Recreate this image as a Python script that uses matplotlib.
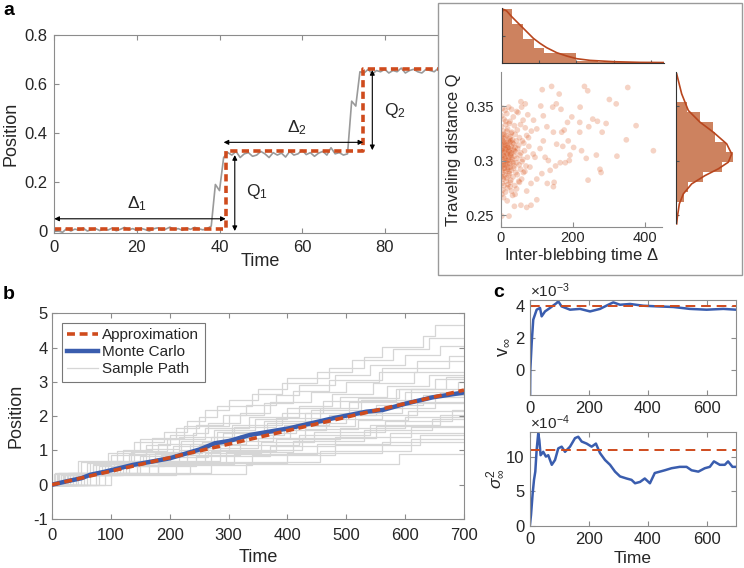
import matplotlib
matplotlib.use('Agg')
from matplotlib import pyplot as plt
from matplotlib.patches import Rectangle
import numpy as np

plt.rcParams['font.family'] = ['Liberation Sans', 'DejaVu Sans']
plt.rcParams['mathtext.fontset'] = 'custom'
plt.rcParams['mathtext.rm'] = 'Liberation Sans'
plt.rcParams['mathtext.it'] = 'Liberation Sans:italic'
plt.rcParams['mathtext.bf'] = 'Liberation Sans:bold'
plt.rcParams['axes.unicode_minus'] = False

W, H = 744, 568
AXC = '#8c8c8c'
TXT = '#262626'
RED = '#CF4B1D'
BLUE = '#3A5DAE'
BROWN = '#CD825F'
CURVE = '#B8461E'

#--------------------------------------------------------------------------------
# panel a : one trajectory
time_a = list(range(101))
pos_a = [0.005, 0.0, -0.005, 0.01, 0.0, 0.008, 0.003, 0.012, 0.0, 0.006,
         0.01, 0.002, 0.009, 0.004, 0.012, 0.001, 0.007, 0.015, 0.005, 0.01,
         0.002, 0.011, 0.006, 0.0, 0.009, 0.013, 0.004, 0.008, 0.016, 0.006,
         0.01, 0.003, 0.012, 0.007, 0.015, 0.009, 0.005, 0.01, 0.02,
         0.19, 0.165,
         0.30, 0.32, 0.31, 0.325, 0.30, 0.315, 0.32, 0.305, 0.31, 0.325,
         0.315, 0.30, 0.32, 0.31, 0.318, 0.302, 0.325, 0.31, 0.315, 0.33,
         0.312, 0.32, 0.305, 0.318, 0.325, 0.31, 0.34, 0.315, 0.32, 0.31, 0.315,
         0.53, 0.51, 0.65,
         0.645, 0.66, 0.64, 0.655, 0.65, 0.66, 0.645, 0.655, 0.65, 0.665,
         0.645, 0.655, 0.66, 0.65, 0.645, 0.66, 0.655, 0.65, 0.665, 0.645,
         0.655, 0.66, 0.65, 0.655, 0.645, 0.66]
approx_t_a = [0, 41.5, 74.8, 100]
approx_y_a = [0.008, 0.327, 0.66, 0.66]

# scatter of (inter-blebbing time, traveling distance)
delta_pts = [141, 115, 232, 241, 352, 162, 301, 320, 220, 375, 423, 348, 322, 281,
             292, 268, 255, 244, 265, 237, 275, 278, 242, 224, 202, 219, 219, 197,
             185, 176, 169, 146, 155, 187, 172, 192, 190, 179, 165, 152, 137, 132,
             148, 129, 146, 114, 100, 84, 72, 100, 84, 72, 56, 38, 40, 23, 3, 3,
             118, 111, 144, 167, 154, 56, 68, 91, 100, 128, 77, 118, 109, 95, 123,
             81, 63, 52, 26,
             5, 12, 22, 30, 44, 58,
             3, 9, 17, 26, 35, 48, 62, 75,
             2, 7, 14, 19, 24, 31, 38, 46, 55, 68, 85,
             1, 4, 8, 11, 16, 21, 27, 33, 40, 52, 60, 72,
             2, 5, 9, 13, 17, 20, 25, 29, 36, 43, 50, 64, 78,
             1, 3, 6, 10, 14, 18, 22, 26, 30, 35, 41, 47, 56, 66, 90,
             2, 4, 7, 11, 15, 19, 23, 28, 32, 38, 45, 53, 61, 74,
             1, 5, 8, 12, 16, 21, 25, 31, 37, 44, 51, 59, 70,
             3, 6, 10, 14, 19, 24, 29, 36, 42, 55, 67,
             2, 7, 11, 17, 22, 28, 34, 46, 58,
             4, 9, 15, 20, 27, 39, 50,
             6, 13, 19, 30, 44,
             8, 18, 33,
             6, 12, 18, 24, 9, 15, 21, 27, 33, 13, 7, 19, 25, 30, 4, 16, 10, 22,
             28, 35, 3, 11, 17, 23, 29, 40, 8, 14, 26, 38]
q_pts = [0.368, 0.365, 0.368, 0.364, 0.367, 0.361, 0.356, 0.352, 0.349, 0.332,
         0.309, 0.319, 0.304, 0.326, 0.334, 0.336, 0.338, 0.331, 0.305, 0.302,
         0.292, 0.289, 0.282, 0.309, 0.312, 0.335, 0.326, 0.340, 0.335, 0.328,
         0.326, 0.326, 0.315, 0.318, 0.313, 0.305, 0.300, 0.298, 0.298, 0.295,
         0.291, 0.300, 0.280, 0.279, 0.276, 0.288, 0.283, 0.279, 0.272, 0.264,
         0.259, 0.257, 0.259, 0.258, 0.269, 0.249, 0.249, 0.269,
         0.341, 0.350, 0.349, 0.347, 0.352, 0.354, 0.352, 0.337, 0.329, 0.331,
         0.321, 0.318, 0.311, 0.303, 0.303, 0.294, 0.289, 0.280, 0.276,
         0.348, 0.346, 0.349, 0.347, 0.345, 0.349,
         0.341, 0.338, 0.343, 0.336, 0.340, 0.344, 0.337, 0.342,
         0.331, 0.327, 0.333, 0.329, 0.334, 0.326, 0.332, 0.328, 0.333, 0.330, 0.327,
         0.322, 0.319, 0.324, 0.320, 0.323, 0.318, 0.322, 0.319, 0.324, 0.321, 0.318, 0.323,
         0.315, 0.313, 0.317, 0.314, 0.316, 0.312, 0.317, 0.313, 0.315, 0.318, 0.314, 0.316, 0.313,
         0.309, 0.307, 0.311, 0.308, 0.310, 0.306, 0.309, 0.311, 0.307, 0.310, 0.308, 0.311, 0.307, 0.309, 0.306,
         0.303, 0.301, 0.305, 0.302, 0.304, 0.300, 0.303, 0.305, 0.301, 0.304, 0.302, 0.305, 0.301, 0.303,
         0.297, 0.295, 0.299, 0.296, 0.298, 0.294, 0.297, 0.299, 0.295, 0.298, 0.296, 0.299, 0.295,
         0.291, 0.289, 0.293, 0.290, 0.292, 0.288, 0.291, 0.293, 0.289, 0.292, 0.290,
         0.285, 0.283, 0.287, 0.284, 0.286, 0.282, 0.285, 0.287, 0.283,
         0.279, 0.277, 0.281, 0.278, 0.280, 0.277, 0.281,
         0.273, 0.271, 0.275, 0.272, 0.274,
         0.266, 0.263, 0.268,
         0.318, 0.311, 0.314, 0.308, 0.304, 0.300, 0.312, 0.306, 0.316, 0.322,
         0.296, 0.297, 0.320, 0.303, 0.310, 0.307, 0.315, 0.301, 0.318, 0.298,
         0.324, 0.293, 0.327, 0.290, 0.325, 0.312, 0.285, 0.336, 0.294, 0.309]

# marginal histograms
delta_edges = [0, 28.6, 57.2, 85.8, 114.4, 143.0, 171.6, 200.2, 228.8, 257.4,
               286.0, 314.6, 343.2, 371.8, 400.4, 429.0]
delta_counts = [160, 115, 70, 43, 28, 28, 28, 6, 4, 3, 2, 2, 1, 1, 1]
delta_fit_x = [0, 4.4, 13.4, 26.8, 40.2, 55.4, 71.5, 84.9, 102.7, 120.6, 147.5,
               174.3, 201, 236.7, 301, 370.8, 435]
delta_fit_y = [148, 160, 155, 138, 123, 106, 88, 73, 58, 45, 30, 20, 12, 7, 3, 1, 0.5]

q_edges = [0.2618, 0.2709, 0.2801, 0.2893, 0.2985, 0.3076, 0.3168, 0.3260,
           0.3352, 0.3443, 0.3535]
q_counts = [24, 37, 82, 137, 172, 150, 117, 110, 72, 32]
q_fit_x = [0.2419, 0.2480, 0.2603, 0.2694, 0.2786, 0.2862, 0.2924, 0.2985,
           0.3061, 0.3153, 0.3260, 0.3352, 0.3459, 0.3612, 0.3795]
q_fit_y = [2, 4, 10, 22, 47, 87, 127, 157, 167, 152, 112, 72, 37, 17, 2]

#--------------------------------------------------------------------------------
# panel b : sample paths (jump times + jump size), mean and approximation
path_jumps = [
    [15, 60, 95, 140, 190, 230, 260, 300, 350, 400, 470, 530, 560, 630, 650],
    [30, 70, 100, 160, 200, 245, 290, 330, 380, 420, 480, 540, 600, 660],
    [10, 50, 110, 150, 210, 250, 280, 340, 390, 450, 510, 580, 640],
    [20, 90, 130, 180, 240, 265, 320, 370, 440, 500, 555, 620],
    [5, 45, 120, 170, 225, 300, 360, 410, 470, 560, 675],
    [35, 80, 150, 205, 270, 310, 380, 455, 520, 590, 650],
    [25, 75, 135, 220, 275, 345, 400, 490, 570, 640],
    [40, 105, 165, 235, 290, 365, 430, 505, 600, 690],
    [12, 65, 140, 195, 260, 335, 420, 475, 545, 615],
    [55, 115, 185, 250, 320, 395, 470, 550, 630],
    [8, 85, 175, 255, 280, 360, 440, 525, 610],
    [30, 95, 160, 215, 305, 390, 460, 585, 670],
    [18, 100, 190, 265, 350, 430, 520, 605],
    [60, 125, 200, 285, 375, 465, 560, 650],
    [3, 70, 155, 240, 330, 415, 500, 595],
    [45, 130, 215, 300, 405, 515, 620],
    [22, 110, 230, 320, 420, 540, 660],
    [75, 145, 260, 355, 445, 565, 680],
    [35, 150, 270, 380, 490, 600],
    [15, 120, 245, 370, 480, 610],
    [90, 180, 295, 410, 530, 645],
    [50, 180, 310, 450, 575],
    [28, 165, 285, 425, 550],
    [65, 210, 340, 480, 625],
    [40, 235, 400, 560],
    [80, 270, 455, 610],
    [100, 330, 590],
]
path_q = [0.31, 0.29, 0.33, 0.30, 0.34, 0.28, 0.32, 0.30, 0.33, 0.29, 0.31, 0.35,
          0.27, 0.32, 0.30, 0.34, 0.29, 0.31, 0.33, 0.28, 0.32, 0.30, 0.34, 0.29,
          0.31, 0.33, 0.30]
t_end = 700
mc_t = [0, 25, 50, 65, 90, 138, 200, 251, 277, 302, 336, 404, 478, 534, 562, 602, 647, 700]
mc_y = [0, 0.1, 0.19, 0.29, 0.38, 0.58, 0.77, 1.03, 1.21, 1.28, 1.45, 1.65, 1.94,
        2.13, 2.18, 2.37, 2.55, 2.69]
approx_t_b = [0, 700]
approx_y_b = [0, 2.76]

#--------------------------------------------------------------------------------
# panel c : running estimates
v_t = [0, 1, 5.7, 11, 22.6, 34, 39.6, 51, 68, 90.6, 96, 107, 136, 170, 204, 238,
       266, 283, 306, 340, 385, 430, 487, 543, 600, 657, 700]
v_val = [-2.0, 0, 1.69, 3.16, 3.79, 3.9, 3.37, 3.68, 3.9, 4.21, 4.32, 4.0, 3.79,
         3.84, 3.68, 3.84, 4.1, 4.25, 4.1, 4.15, 4.04, 4.0, 3.96, 3.84, 3.79, 3.84, 3.79]
v_approx = 4.0

s_t = [0, 3.4, 9, 13.6, 18, 22.6, 28, 31.7, 36, 45, 54, 62, 74, 85, 96, 107.6, 119,
       136, 153, 164, 175.6, 192.5, 209.5, 224, 238, 255, 272, 289, 306, 328, 345,
       357, 374, 390, 407.5, 424, 441, 458, 481, 509, 532, 549, 572, 594, 611, 625,
       645, 662, 673, 688, 700]
s_val = [0.2, 1.56, 4.7, 6.7, 7.9, 11.1, 13.5, 12.5, 10.3, 10.8, 10.1, 10.3, 8.9,
         9.6, 11.3, 11.55, 10.8, 11.55, 12.8, 13.0, 12.3, 12.0, 11.55, 12.0, 10.6,
         9.6, 8.9, 7.9, 7.2, 6.9, 6.7, 6.2, 6.4, 6.9, 6.2, 7.7, 7.9, 8.1, 8.4, 8.6,
         8.6, 8.1, 7.9, 8.4, 8.6, 9.4, 8.9, 8.9, 9.4, 8.6, 8.6]
s_approx = 11.0


#--------------------------------------------------------------------------------
def px_axes(fig, l, t, r, b, **kw):
    return fig.add_axes([l/W, 1 - b/H, (r - l)/W, (b - t)/H], **kw)


def matlab_style(ax, box=True, size=12, xpad=6, ypad=4):
    for s in ax.spines.values():
        s.set_color(AXC)
        s.set_linewidth(0.8)
    ax.tick_params(direction='in', length=3.5, width=0.8, color=AXC,
                   labelcolor=TXT, labelsize=size, top=box, right=box)
    ax.tick_params(axis='x', pad=xpad)
    ax.tick_params(axis='y', pad=ypad)


def label_at(ax, xlabel=None, ylabel=None, xy=None, yx=None, size=13):
    # place axis labels at given pixel positions (label top / label right edge)
    l, b, w, h = ax.get_position().bounds
    if xlabel is not None:
        ax.set_xlabel(xlabel, fontsize=size, color=TXT)
        ax.xaxis.set_label_coords(0.5, -((xy - (1 - b)*H) / (h*H)))
    if ylabel is not None:
        ax.set_ylabel(ylabel, fontsize=size, color=TXT)
        ax.yaxis.set_label_coords((yx - l*W) / (w*W), 0.5)


fig = plt.figure(figsize=(W/100, H/100), dpi=100)

# ---------------- a
ax_a = px_axes(fig, 54.3, 35, 467.3, 233)
ax_a.plot(time_a, pos_a, color='#9a9a9a', lw=1.2)
ax_a.step(approx_t_a, approx_y_a, where='post', color=RED, lw=2.6,
          linestyle=(0, (2, 1.2)))
ax_a.set_xlim(0, 100)
ax_a.set_ylim(-0.008, 0.8)
ax_a.set_xticks([0, 20, 40, 60, 80, 100])
ax_a.set_yticks([0, 0.2, 0.4, 0.6, 0.8])
ax_a.set_yticklabels(['0', '0.2', '0.4', '0.6', '0.8'])
matlab_style(ax_a, xpad=5, ypad=5)
label_at(ax_a, xlabel='Time', xy=253, ylabel='Position', yx=20)

arr = dict(arrowstyle='<|-|>', color='k', lw=0.8, mutation_scale=7, shrinkA=0, shrinkB=0)
ax_a.annotate('', xy=(41.5, 0.05), xytext=(0, 0.05), arrowprops=arr)
ax_a.annotate('', xy=(74.8, 0.362), xytext=(41.0, 0.362), arrowprops=arr)
ax_a.annotate('', xy=(43.7, 0.31), xytext=(43.7, 0.0), arrowprops=arr)
ax_a.annotate('', xy=(77.0, 0.657), xytext=(77.0, 0.33), arrowprops=arr)
ax_a.text(20, 0.072, r'$\Delta_1$', fontsize=12.5, color=TXT, ha='center', va='bottom')
ax_a.text(58.7, 0.382, r'$\Delta_2$', fontsize=12.5, color=TXT, ha='center', va='bottom')
ax_a.text(46.5, 0.16, r'$\mathregular{Q_1}$', fontsize=12.5, color=TXT, ha='left', va='center')
ax_a.text(79.8, 0.49, r'$\mathregular{Q_2}$', fontsize=12.5, color=TXT, ha='left', va='center')

# inset frame
frame = Rectangle((438/W, 1 - 275/H), 304/W, 272/H, transform=fig.transFigure,
                  facecolor='white', edgecolor='#9a9a9a', lw=1.0, zorder=1)
fig.patches.append(frame)

ax_s = px_axes(fig, 500.7, 71.7, 661.7, 226.7, zorder=2)
ax_s.scatter(delta_pts, q_pts, s=17, color='#D95319', alpha=0.25, edgecolors='none')
ax_s.set_xlim(0, 446)
ax_s.set_ylim(0.2393, 0.3815)
ax_s.set_xticks([0, 200, 400])
ax_s.set_yticks([0.25, 0.3, 0.35])
ax_s.set_yticklabels(['0.25', '0.3', '0.35'])
matlab_style(ax_s, box=False, size=10.5, xpad=3, ypad=5)
ax_s.spines['top'].set_visible(False)
ax_s.spines['right'].set_visible(False)
label_at(ax_s, xlabel=r'Inter-blebbing time $\Delta$', xy=246,
         ylabel='Traveling distance Q', yx=461, size=12)

ax_h1 = px_axes(fig, 501.7, 8, 664, 62.7, zorder=2)
ax_h1.bar(delta_edges[:-1], delta_counts, width=np.diff(delta_edges), align='edge',
          color=BROWN, edgecolor='none')
ax_h1.plot(delta_fit_x, delta_fit_y, color=CURVE, lw=1.2)
ax_h1.set_xlim(0, 435)
ax_h1.set_ylim(0, 164)
ax_h1.set_xticks([0, 100, 200, 300, 400])
ax_h1.set_yticks([80])
ax_h1.set_xticklabels([])
ax_h1.set_yticklabels([])
matlab_style(ax_h1, box=False)
ax_h1.tick_params(length=2, color='#555555')
for s in ['top', 'right']:
    ax_h1.spines[s].set_visible(False)
ax_h1.spines['bottom'].set_color('#333333')
ax_h1.spines['left'].set_color('#333333')
ax_h1.patch.set_alpha(0)

ax_h2 = px_axes(fig, 676, 71.7, 735, 226.7, zorder=2)
ax_h2.barh(q_edges[:-1], q_counts, height=np.diff(q_edges), align='edge',
           color=BROWN, edgecolor='none')
ax_h2.plot(q_fit_y, q_fit_x, color=CURVE, lw=1.2)
ax_h2.set_ylim(0.2393, 0.3815)
ax_h2.set_xlim(0, 177)
ax_h2.set_yticks([0.25, 0.3, 0.35])
ax_h2.set_xticks([])
ax_h2.set_yticklabels([])
matlab_style(ax_h2, box=False)
ax_h2.tick_params(length=2, color='#555555')
for s in ['top', 'right', 'bottom']:
    ax_h2.spines[s].set_visible(False)
ax_h2.spines['left'].set_color('#333333')
ax_h2.spines['left'].set_bounds(0.243, 0.3815)
ax_h2.patch.set_alpha(0)

# ---------------- b
ax_b = px_axes(fig, 52, 313.3, 464, 519)
for k, jumps in enumerate(path_jumps):
    tt = [0] + jumps + [t_end]
    yy = [path_q[k]*i for i in range(len(jumps) + 1)]
    yy = yy + [yy[-1]]
    ax_b.step(tt, yy, where='post', color='#d6d6d6', lw=0.9,
              label='Sample Path' if k == 0 else None, zorder=1)
ax_b.plot(mc_t, mc_y, color=BLUE, lw=3.2, label='Monte Carlo', zorder=3)
ax_b.plot(approx_t_b, approx_y_b, color=RED, lw=2.6, linestyle=(0, (2.2, 1.3)),
          label='Approximation', zorder=4)
ax_b.set_xlim(0, 700)
ax_b.set_ylim(-1, 5)
ax_b.set_xticks(range(0, 701, 100))
ax_b.set_yticks(range(-1, 6))
matlab_style(ax_b, xpad=6.5, ypad=3)
label_at(ax_b, xlabel='Time', xy=549, ylabel='Position', yx=25)
h, l = ax_b.get_legend_handles_labels()
order = [2, 1, 0]
leg = ax_b.legend([h[i] for i in order], [l[i] for i in order], loc='upper left',
                  bbox_to_anchor=(0.0235, 0.953), borderaxespad=0, fontsize=11,
                  fancybox=False, framealpha=1, edgecolor='#777777',
                  handlelength=2.0, labelspacing=0.2, handletextpad=0.3,
                  borderpad=0.35)
leg.get_frame().set_linewidth(0.8)
for t in leg.get_texts():
    t.set_color(TXT)

# ---------------- c
ax_c1 = px_axes(fig, 530, 300, 736, 394.5)
ax_c1.plot(v_t, v_val, color=BLUE, lw=1.8)
ax_c1.axhline(v_approx, color=RED, lw=1.4, linestyle=(0, (5, 3)))
ax_c1.set_xlim(0, 700)
ax_c1.set_ylim(-1.55, 4.4)
ax_c1.set_xticks([0, 200, 400, 600])
ax_c1.set_yticks([0, 2, 4])
matlab_style(ax_c1, xpad=5, ypad=4)
label_at(ax_c1, ylabel=r'$\mathregular{v_\infty}$', yx=511, size=13)
ax_c1.text(0, 1.0, r'$\times\mathregular{10^{-3}}$', transform=ax_c1.transAxes,
           fontsize=11, color=TXT, ha='left', va='bottom')

ax_c2 = px_axes(fig, 530, 432.3, 736, 525.7)
ax_c2.plot(s_t, s_val, color=BLUE, lw=1.8)
ax_c2.axhline(s_approx, color=RED, lw=1.4, linestyle=(0, (5, 3)))
ax_c2.set_xlim(0, 700)
ax_c2.set_ylim(0, 13.65)
ax_c2.set_xticks([0, 200, 400, 600])
ax_c2.set_yticks([0, 5, 10])
matlab_style(ax_c2, xpad=4.5, ypad=4)
label_at(ax_c2, xlabel='Time', xy=551, ylabel=r'$\sigma^2_\infty$', yx=507, size=12.5)
ax_c2.text(0, 1.0, r'$\times\mathregular{10^{-4}}$', transform=ax_c2.transAxes,
           fontsize=11, color=TXT, ha='left', va='bottom')

# panel letters
fig.text(3/W, 1 - 2/H, 'a', fontsize=14, fontweight='bold', va='top', ha='left')
fig.text(3/W, 1 - 286/H, 'b', fontsize=14, fontweight='bold', va='top', ha='left')
fig.text(493/W, 1 - 284/H, 'c', fontsize=14, fontweight='bold', va='top', ha='left')

fig.savefig('out.png', dpi=100)
